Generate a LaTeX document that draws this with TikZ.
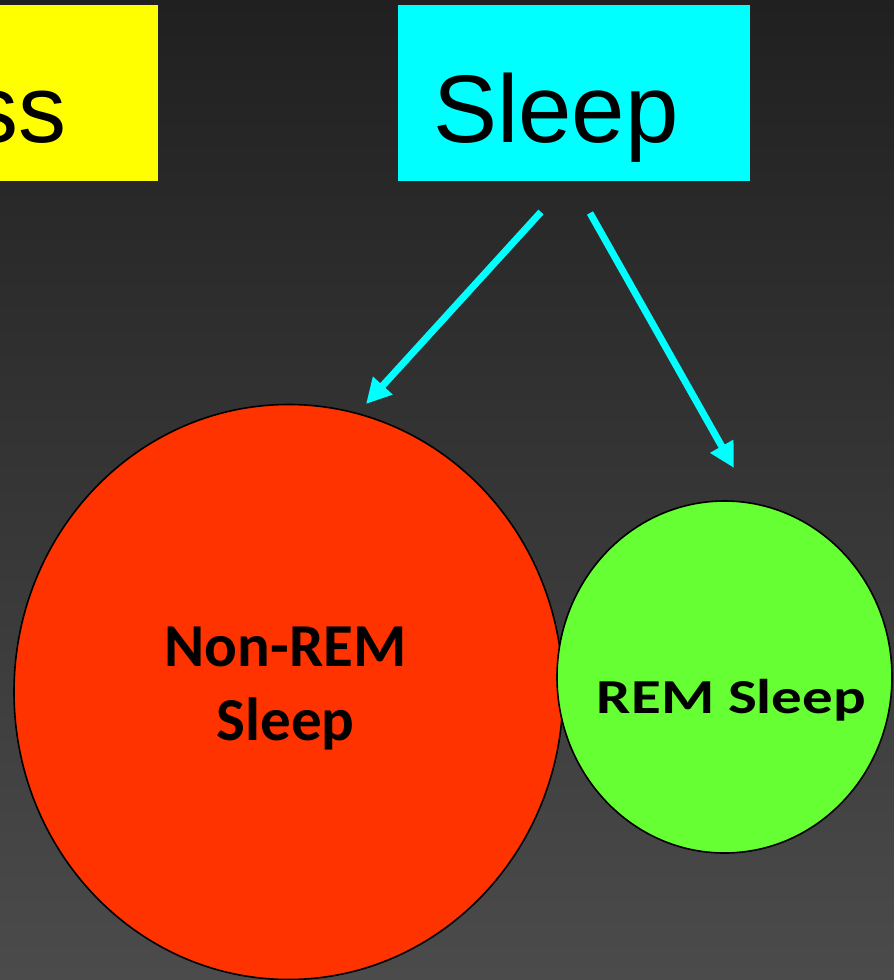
\documentclass[tikz,border=0pt]{standalone}
\usepackage{fontspec}
\setmainfont{Liberation Sans}
\newfontfamily\carl{Carlito}
\usetikzlibrary{arrows.meta,shapes.geometric}
\definecolor{bgtop}{HTML}{202020}
\definecolor{bgbot}{HTML}{4B4B4B}
\definecolor{boxyel}{HTML}{FFFF00}
\definecolor{boxcyan}{HTML}{00FFFF}
\definecolor{nremred}{HTML}{FF3300}
\definecolor{remgreen}{HTML}{66FF33}
\tikzset{
  titlebox/.style={draw=none, inner sep=0pt, anchor=north west},
  titletext/.style={font=\fontsize{96}{110}\selectfont, text=black, inner sep=0pt},
  sleepcircle/.style={ellipse, draw=black, line width=1.6pt, inner sep=0pt},
  circletext/.style={font=\carl\bfseries\fontsize{61}{74}\selectfont, text=black, inner sep=0pt, align=center},
  arrowline/.style={draw=boxcyan, line width=7pt, -{Triangle[width=25pt,length=25pt]}}
}
\begin{document}
\begin{tikzpicture}[x=1pt,y=-1pt]
\useasboundingbox (0,0) rectangle (894,980);
\shade[top color=bgtop, bottom color=bgbot] (0,0) rectangle (894,980);
% yellow box (cropped)
\node[titlebox, fill=boxyel, minimum width=168pt, minimum height=176pt] (wake) at (-10,5) {};
\node[titletext, anchor=base east] (waketext) at (67,142) {ss};
% cyan box
\node[titlebox, fill=boxcyan, minimum width=352pt, minimum height=176pt] (sleep) at (398,5) {};
\node[titletext, anchor=base west] (sleeptext) at (433,142) {Sleep};
% circles
\node[sleepcircle, fill=nremred, minimum width=549pt, minimum height=575pt] (nrem) at (288.5,692) {};
\node[sleepcircle, fill=remgreen, minimum width=335pt, minimum height=352pt] (rem) at (724.5,677) {};
\node[circletext, anchor=base] (nremtext) at (285.5,740) {Non-REM\\Sleep};
\node[circletext, anchor=base, yscale=0.8] (remtext) at (731.5,713) {REM Sleep};
% arrows
\coordinate (s1) at (541,212);
\coordinate (s2) at (590,213);
\coordinate (t1) at (366,404);
\coordinate (t2) at (734,468);
\draw[arrowline] (s1) -- (t1);
\draw[arrowline] (s2) -- (t2);
\end{tikzpicture}
\end{document}
